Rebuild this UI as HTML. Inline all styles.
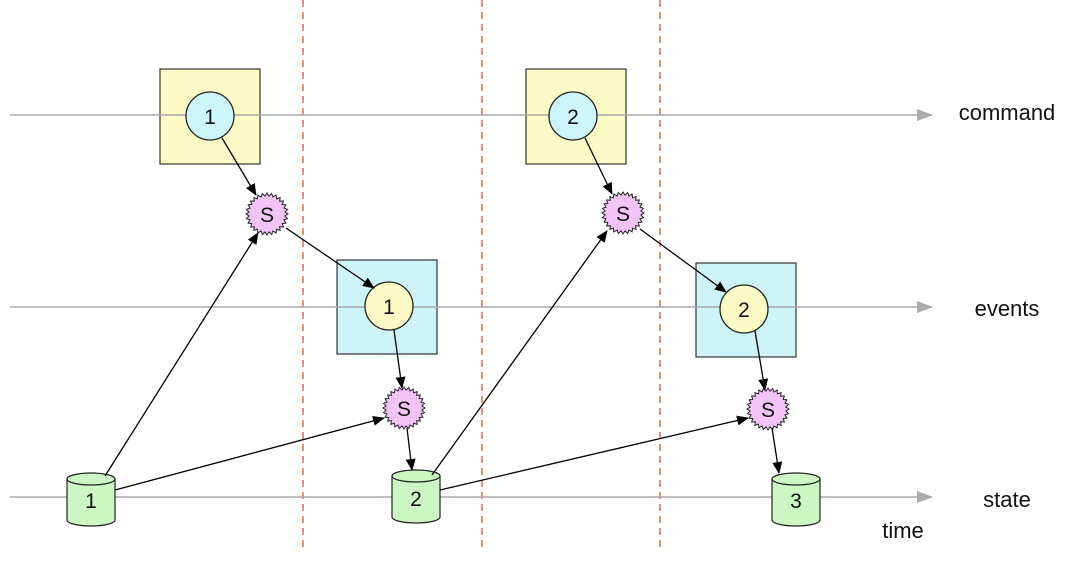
<!DOCTYPE html>
<html><head><meta charset="utf-8"><style>
html,body{margin:0;padding:0;background:#fff}
svg{display:block}
text{font-family:"Liberation Sans",Arial,sans-serif}
</style></head><body>
<svg id="s" width="1080" height="570" viewBox="0 0 1080 570" xmlns="http://www.w3.org/2000/svg">
<defs>
<marker id="a" markerWidth="12" markerHeight="10" refX="11" refY="5" orient="auto" markerUnits="userSpaceOnUse"><path d="M0,0 L12,5 L0,10 Z" fill="#000"/></marker>
<marker id="g" markerWidth="16" markerHeight="12" refX="15" refY="6" orient="auto" markerUnits="userSpaceOnUse"><path d="M0,0 L16,6 L0,12 Z" fill="#aaa"/></marker>
</defs>
<g stroke="#d9432e" stroke-width="1.2" stroke-dasharray="7,5">
<line x1="303" y1="0" x2="303" y2="552"/><line x1="482" y1="0" x2="482" y2="552"/><line x1="660" y1="0" x2="660" y2="552"/>
</g>
<rect x="160" y="69" width="100" height="95" fill="#fdfbc5" stroke="#333" stroke-width="1.2"/>
<rect x="526" y="69" width="100" height="95" fill="#fdfbc5" stroke="#333" stroke-width="1.2"/>
<rect x="337" y="260" width="100" height="94" fill="#cdf4f8" stroke="#333" stroke-width="1.2"/>
<rect x="696" y="263" width="100" height="94" fill="#cdf4f8" stroke="#333" stroke-width="1.2"/>
<g stroke="#aaa" stroke-width="1.5" marker-end="url(#g)">
<line x1="10" y1="115" x2="932" y2="115"/><line x1="10" y1="307" x2="932" y2="307"/><line x1="10" y1="497" x2="932" y2="497"/>
</g>
<circle cx="210" cy="116" r="24" fill="#ccf6fb" stroke="#222" stroke-width="1.3"/>
<circle cx="573" cy="116" r="24" fill="#ccf6fb" stroke="#222" stroke-width="1.3"/>
<circle cx="389" cy="306" r="24" fill="#fdfbc5" stroke="#222" stroke-width="1.3"/>
<circle cx="744" cy="309" r="24" fill="#fdfbc5" stroke="#222" stroke-width="1.3"/>
<g id="cyl"></g>
<g id="sp"></g>
<g stroke="#000" stroke-width="1.3" fill="none" marker-end="url(#a)">
<line x1="222" y1="138" x2="256" y2="195"/>
<line x1="105" y1="476" x2="258" y2="233"/>
<line x1="115" y1="490" x2="384" y2="418"/>
<line x1="286" y1="228" x2="374" y2="288"/>
<line x1="394" y1="330" x2="402" y2="388"/>
<line x1="407" y1="428" x2="412" y2="470"/>
<line x1="432" y1="475" x2="607" y2="231"/>
<line x1="440" y1="490" x2="748" y2="418"/>
<line x1="585" y1="138" x2="612" y2="194"/>
<line x1="640" y1="229" x2="726" y2="292"/>
<line x1="755" y1="331" x2="765" y2="390"/>
<line x1="772" y1="428" x2="779" y2="473"/>
</g>
<g font-size="21" text-anchor="middle" fill="#111">
<text x="210" y="124">1</text><text x="573" y="124">2</text>
<text x="389" y="314">1</text><text x="744" y="317">2</text>
<text x="91" y="508">1</text><text x="416" y="506">2</text><text x="796" y="508">3</text>
<text x="267" y="222">S</text><text x="404" y="416">S</text><text x="623" y="221">S</text><text x="768" y="417">S</text>
</g>
<g font-size="22" text-anchor="middle" fill="#111">
<text x="1007" y="120">command</text><text x="1007" y="316">events</text><text x="1007" y="507">state</text><text x="903" y="538">time</text>
</g>
</svg>
<script>
var ns="http://www.w3.org/2000/svg";
function el(p,t,a){var e=document.createElementNS(ns,t);for(var k in a)e.setAttribute(k,a[k]);p.appendChild(e);return e;}
var sp=document.getElementById("sp");
[[267,214],[404,408],[623,213],[768,409]].forEach(function(c){
 var pts=[];for(var i=0;i<56;i++){var r=i%2?18:21,a=i*Math.PI/28;pts.push((c[0]+r*Math.cos(a)).toFixed(1)+","+(c[1]+r*Math.sin(a)).toFixed(1));}
 el(sp,"polygon",{points:pts.join(" "),fill:"#f2c4f8",stroke:"#222","stroke-width":"1"});
});
var cy=document.getElementById("cyl");
[[67,115,479,520],[392,440,476,517],[772,820,479,520]].forEach(function(c){
 var x1=c[0],x2=c[1],t=c[2],b=c[3],rx=(x2-x1)/2,cx=x1+rx,ry=6;
 el(cy,"path",{d:"M"+x1+","+t+" L"+x1+","+b+" A"+rx+","+ry+" 0 0 0 "+x2+","+b+" L"+x2+","+t,fill:"#ccf7c4",stroke:"#222","stroke-width":"1.2"});
 el(cy,"ellipse",{cx:cx,cy:t,rx:rx,ry:ry,fill:"#ccf7c4",stroke:"#222","stroke-width":"1.2"});
});
</script>
</body></html>
